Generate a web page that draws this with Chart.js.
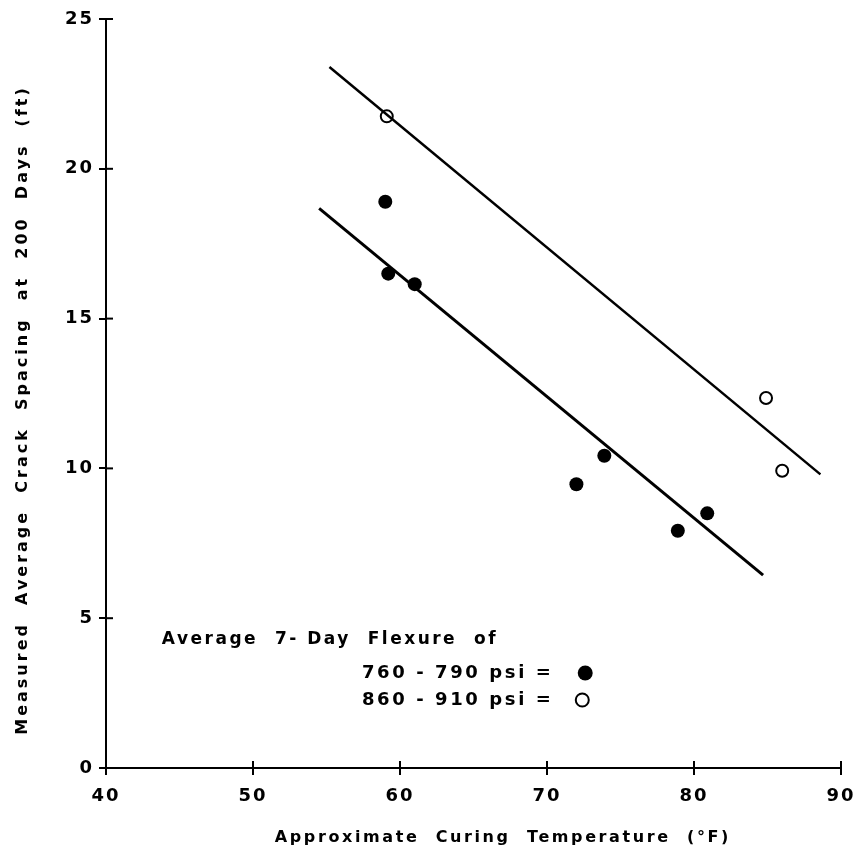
<!DOCTYPE html>
<html>
<head>
<meta charset="utf-8">
<script src="https://cdn.jsdelivr.net/npm/chart.js@4.4.1/dist/chart.umd.min.js"></script>
<style>
  html, body { margin: 0; padding: 0; background: #fff; }
  #wrap { width: 860px; height: 856px; }
</style>
</head>
<body>
<div id="wrap"><canvas id="chart"></canvas></div>
<script>
// curing temperature (F) vs crack spacing (ft)
const lowFlexTemp = [59.0, 59.2, 61.0, 72.0, 73.9, 78.9, 80.9];
const lowFlexSpacing = [18.9, 16.5, 16.15, 9.47, 10.42, 7.92, 8.5];
const highFlexTemp = [59.1, 84.9, 86.0];
const highFlexSpacing = [21.75, 12.35, 9.92];

// fitted trend lines (end points)
const highFitTemp = [55.2, 88.6];
const highFitSpacing = [23.4, 9.8];
const lowFitTemp = [54.5, 84.7];
const lowFitSpacing = [18.68, 6.44];

const xTicks = [40, 50, 60, 70, 80, 90];
const yTicks = [0, 5, 10, 15, 20, 25];

const FONT = '"DejaVu Sans", sans-serif';

function toPoints(xs, ys) {
    return xs.map((x, i) => ({ x: x, y: ys[i] }));
}

// ticks in the original cross the axis, so draw the inner half too
const crossTicks = {
    id: 'crossTicks',
    afterDatasetsDraw(chart) {
        const ctx = chart.ctx;
        const xs = chart.scales.x, ys = chart.scales.y;
        const area = chart.chartArea;
        ctx.save();
        ctx.strokeStyle = '#000';
        ctx.lineWidth = 2;
        xTicks.forEach(v => {
            if (v === 40) return;
            const px = xs.getPixelForValue(v);
            ctx.beginPath();
            ctx.moveTo(px, area.bottom);
            ctx.lineTo(px, area.bottom - 7);
            ctx.stroke();
        });
        yTicks.forEach(v => {
            if (v === 0) return;
            const py = ys.getPixelForValue(v);
            ctx.beginPath();
            ctx.moveTo(area.left, py);
            ctx.lineTo(area.left + 7, py);
            ctx.stroke();
        });
        ctx.restore();
    }
};

// axis titles and the in-plot key, spaced out like the typewriter lettering
const annotations = {
    id: 'annotations',
    beforeDraw(chart) {
        chart.ctx.letterSpacing = '2px';
    },
    afterDraw(chart) {
        const ctx = chart.ctx;
        const xs = chart.scales.x, ys = chart.scales.y;
        ctx.save();
        ctx.fillStyle = '#000';
        ctx.strokeStyle = '#000';
        ctx.textBaseline = 'middle';

        // x title
        ctx.letterSpacing = '2.6px';
        ctx.font = 'bold 16px ' + FONT;
        ctx.textAlign = 'center';
        ctx.fillText('Approximate  Curing  Temperature  (\u00B0F)', xs.getPixelForValue(67.0), 838);

        // y title
        ctx.letterSpacing = '3px';
        ctx.save();
        ctx.translate(23, ys.getPixelForValue(11.95));
        ctx.rotate(-Math.PI / 2);
        ctx.fillText('Measured  Average  Crack  Spacing  at  200  Days  (ft)', 0, 0);
        ctx.restore();

        // key
        ctx.letterSpacing = '2.5px';
        ctx.font = 'bold 17px ' + FONT;
        ctx.textAlign = 'left';
        ctx.fillText('Average  7- Day  Flexure  of', xs.getPixelForValue(43.8), ys.getPixelForValue(4.27));
        ctx.font = 'bold 18px ' + FONT;
        ctx.letterSpacing = '2.6px';
        const keyLeft = xs.getPixelForValue(57.41);
        const row1 = ys.getPixelForValue(3.17);
        const row2 = ys.getPixelForValue(2.27);
        ctx.fillText('760 - 790 psi =', keyLeft, row1);
        ctx.fillText('860 - 910 psi =', keyLeft, row2);

        ctx.beginPath();
        ctx.arc(xs.getPixelForValue(72.6), row1, 7.5, 0, Math.PI * 2);
        ctx.fill();
        ctx.beginPath();
        ctx.lineWidth = 2;
        ctx.arc(xs.getPixelForValue(72.4), row2, 6.5, 0, Math.PI * 2);
        ctx.stroke();
        ctx.restore();
    }
};

new Chart(document.getElementById('chart'), {
    type: 'scatter',
    data: {
        datasets: [
            {
                type: 'line',
                data: toPoints(highFitTemp, highFitSpacing),
                borderColor: '#000',
                borderWidth: 2.5,
                pointRadius: 0,
                fill: false
            },
            {
                type: 'line',
                data: toPoints(lowFitTemp, lowFitSpacing),
                borderColor: '#000',
                borderWidth: 3,
                pointRadius: 0,
                fill: false
            },
            {
                data: toPoints(lowFlexTemp, lowFlexSpacing),
                pointRadius: 7,
                pointBackgroundColor: '#000',
                pointBorderColor: '#000',
                pointBorderWidth: 0
            },
            {
                data: toPoints(highFlexTemp, highFlexSpacing),
                pointRadius: 6,
                pointBackgroundColor: '#fff',
                pointBorderColor: '#000',
                pointBorderWidth: 2
            }
        ]
    },
    options: {
        responsive: true,
        maintainAspectRatio: false,
        animation: false,
        layout: { padding: { top: 19, right: 19, left: 0, bottom: 0 } },
        plugins: {
            legend: { display: false },
            tooltip: { enabled: false }
        },
        scales: {
            x: {
                type: 'linear',
                min: 40,
                max: 90,
                afterFit: s => {
                    s.height = 88;
                    s.paddingLeft = 0;
                    s.paddingRight = 0;
                },
                afterBuildTicks: s => { s.ticks = xTicks.map(v => ({ value: v })); },
                grid: { drawOnChartArea: false, color: '#000', lineWidth: 2, tickLength: 7 },
                border: { color: '#000', width: 2 },
                ticks: {
                    color: '#000',
                    padding: 11,
                    maxRotation: 0,
                    font: { family: FONT, size: 18, weight: 'bold' }
                }
            },
            y: {
                type: 'linear',
                min: 0,
                max: 25,
                afterFit: s => {
                    s.width = 106;
                    s.paddingTop = 0;
                    s.paddingBottom = 0;
                },
                afterBuildTicks: s => { s.ticks = yTicks.map(v => ({ value: v })); },
                grid: { drawOnChartArea: false, color: '#000', lineWidth: 2, tickLength: 7 },
                border: { color: '#000', width: 2 },
                ticks: {
                    color: '#000',
                    padding: 5,
                    font: { family: FONT, size: 18, weight: 'bold' }
                }
            }
        }
    },
    plugins: [crossTicks, annotations]
});
</script>
</body>
</html>
